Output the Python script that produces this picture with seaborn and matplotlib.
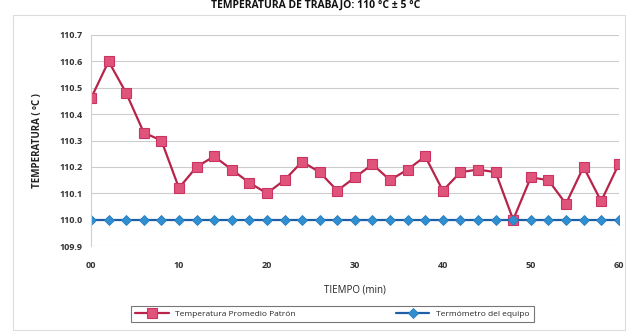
import matplotlib
matplotlib.use("Agg")
import matplotlib.pyplot as plt
import matplotlib.patches as mpatches
import numpy as np
import pandas as pd
import seaborn as sns

# Time in minutes (readings every 2 min)
tiempo = [0, 2, 4, 6, 8, 10, 12, 14, 16, 18, 20, 22, 24, 26, 28, 30,
          32, 34, 36, 38, 40, 42, 44, 46, 48, 50, 52, 54, 56, 58, 60]
patron = [110.46, 110.60, 110.48, 110.33, 110.30, 110.12, 110.20, 110.24,
          110.19, 110.14, 110.10, 110.15, 110.22, 110.18, 110.11, 110.16,
          110.21, 110.15, 110.19, 110.24, 110.11, 110.18, 110.19, 110.18,
          110.00, 110.16, 110.15, 110.06, 110.20, 110.07, 110.21]
equipo = [110.0] * len(tiempo)

serie_patron = "Temperatura Promedio Patrón"
serie_equipo = "Termómetro del equipo"
y_ticks = [109.9, 110.0, 110.1, 110.2, 110.3, 110.4, 110.5, 110.6, 110.7]
x_ticks = [0, 10, 20, 30, 40, 50, 60]
x_ticklabels = ["00", "10", "20", "30", "40", "50", "60"]

df = pd.DataFrame({
    "tiempo": tiempo * 2,
    "temp": patron + equipo,
    "serie": [serie_patron] * len(tiempo) + [serie_equipo] * len(tiempo),
})

sns.set_theme(style="white")
plt.rcParams["font.family"] = ["Open Sans", "DejaVu Sans"]

fig = plt.figure(figsize=(6.32, 3.33), dpi=100)
ax = fig.add_axes([0.144, 0.261, 0.835, 0.634])

# chart-area border
fig.patches.append(mpatches.Rectangle((13 / 632, 3 / 333), 612 / 632, 315 / 333,
                                      transform=fig.transFigure, fill=False,
                                      edgecolor="#dcdcdc", linewidth=0.8))

ax.yaxis.grid(True, color="#cccccc", linewidth=0.8)
ax.set_axisbelow(True)

sns.lineplot(data=df[df.serie == serie_patron], x="tiempo", y="temp", ax=ax,
             color="#b8234a", linewidth=1.6, marker="s", markersize=6.5,
             markerfacecolor="#e0537a", markeredgecolor="#c93560",
             markeredgewidth=0.8, label=serie_patron)
sns.lineplot(data=df[df.serie == serie_equipo], x="tiempo", y="temp", ax=ax,
             color="#1f5fa8", linewidth=1.6, marker="D", markersize=5,
             markerfacecolor="#2f8fd0", markeredgecolor="#2a7cc0",
             markeredgewidth=0.6, label=serie_equipo)

ax.set_xlim(0, 60)
ax.set_ylim(109.9, 110.7)
ax.set_yticks(y_ticks)
ax.set_yticklabels([f"{v:.1f}" for v in y_ticks])
ax.set_xticks(x_ticks)
ax.set_xticklabels(x_ticklabels)
ax.tick_params(axis="y", labelsize=6.5, colors="#333333", length=0, pad=6)
ax.tick_params(axis="x", labelsize=6.5, colors="#333333", length=0, pad=11)
for lbl in ax.get_xticklabels() + ax.get_yticklabels():
    lbl.set_fontweight("bold")

for s in ["top", "right", "bottom"]:
    ax.spines[s].set_visible(False)
ax.spines["left"].set_color("#d0d0d0")
ax.spines["left"].set_linewidth(0.8)

ax.set_xlabel("TIEMPO (min)", fontsize=7, color="#222222", labelpad=10)
ax.set_ylabel("TEMPERATURA ( ºC )", fontsize=7, color="#222222",
              fontweight="bold", labelpad=12)

fig.text(0.5, 1.0, "TEMPERATURA DE TRABAJO: 110 °C ± 5 °C", ha="center",
         va="top", fontsize=7.5, fontweight="bold", color="#111111")

leg = ax.legend(loc="center", bbox_to_anchor=(0.5 * (125 + 540) / 632, 1 - 314 / 333),
                bbox_transform=fig.transFigure, ncol=2, fontsize=6,
                frameon=True, fancybox=False, edgecolor="#555555",
                handlelength=4, columnspacing=12, borderpad=0.5)
leg.get_frame().set_linewidth(0.8)

fig.savefig("out.png", dpi=100)
